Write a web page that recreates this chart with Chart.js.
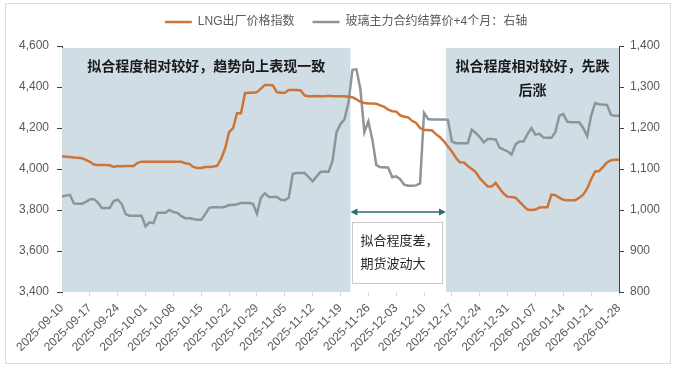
<!DOCTYPE html>
<html>
<head>
<meta charset="utf-8">
<script src="https://cdn.jsdelivr.net/npm/chart.js@4/dist/chart.umd.min.js"></script>
<style>
  html, body { margin: 0; padding: 0; background: #fff; }
  #wrap { position: relative; width: 692px; height: 374px; }
</style>
</head>
<body>
<div id="wrap"><canvas id="lngChart"></canvas></div>
<script>
// data (daily, 2025-09-10 .. 2026-01-28)
const startDate = '2025-09-10';
const dayCount = 141;

const tickLabels = ['2025-09-10', '2025-09-17', '2025-09-24', '2025-10-01', '2025-10-08', '2025-10-15',
    '2025-10-22', '2025-10-29', '2025-11-05', '2025-11-12', '2025-11-19', '2025-11-26', '2025-12-03',
    '2025-12-10', '2025-12-17', '2025-12-24', '2025-12-31', '2026-01-07', '2026-01-14', '2026-01-21',
    '2026-01-28'];

const seriesNames = ['LNG出厂价格指数', '玻璃主力合约结算价+4个月：右轴'];

const lngIndex = [
    4062, 4060, 4058, 4056, 4055, 4052, 4045, 4035, 4022, 4020,
    4020, 4020, 4018, 4010, 4015, 4013, 4015, 4015, 4015, 4030,
    4035, 4035, 4035, 4035, 4035, 4035, 4035, 4035, 4035, 4035,
    4035, 4028, 4025, 4010, 4005, 4005, 4010, 4010, 4012, 4015,
    4050, 4100, 4180, 4200, 4272, 4272, 4370, 4372, 4372, 4375,
    4392, 4410, 4410, 4408, 4375, 4372, 4372, 4385, 4385, 4385,
    4383, 4358, 4355, 4355, 4356, 4355, 4355, 4357, 4355, 4355,
    4355, 4355, 4352, 4350, 4340, 4328, 4322, 4320, 4320, 4318,
    4310, 4303, 4290, 4282, 4280, 4262, 4255, 4252, 4235, 4225,
    4200, 4190, 4190, 4188, 4170, 4155, 4135, 4110, 4085, 4055,
    4033, 4032, 4015, 4000, 3985, 3955, 3935, 3915, 3915, 3932,
    3905, 3880, 3865, 3863, 3860, 3840, 3820, 3802, 3800, 3802,
    3812, 3813, 3813, 3875, 3872, 3860, 3850, 3847, 3847, 3848,
    3860, 3875, 3905, 3950, 3988, 3990, 4010, 4032, 4043, 4045,
    4045
];

const glassFutures = [
    1033, 1035, 1037, 1016, 1015, 1015, 1020, 1026, 1027, 1018,
    1005, 1005, 1005, 1022, 1025, 1015, 990, 986, 986, 986,
    986, 960, 970, 968, 993, 993, 993, 1000, 995, 993,
    985, 980, 980, 978, 976, 976, 990, 1005, 1007, 1007,
    1006, 1008, 1012, 1012, 1014, 1017, 1017, 1017, 1015, 991,
    1030, 1041, 1032, 1032, 1032, 1025, 1024, 1030, 1088, 1090,
    1090, 1090, 1080, 1070, 1082, 1093, 1093, 1093, 1120, 1190,
    1210, 1221, 1262, 1342, 1343, 1295, 1190, 1216, 1172, 1110,
    1104, 1104, 1103, 1080, 1082, 1075, 1062, 1059, 1059, 1060,
    1065, 1237, 1222, 1221, 1221, 1221, 1221, 1220, 1167, 1163,
    1163, 1163, 1163, 1196, 1188, 1178, 1165, 1173, 1173, 1172,
    1152, 1147, 1143, 1135, 1160, 1167, 1167, 1185, 1200, 1184,
    1186, 1177, 1176, 1176, 1190, 1230, 1234, 1215, 1214, 1214,
    1214, 1200, 1180, 1230, 1261, 1258, 1257, 1256, 1232, 1230,
    1230
];

// shaded periods (first day, last day)
const shadeRanges = [['2025-09-10', '2025-11-21'], ['2025-12-16', '2026-01-28']];
const shadeNotes = [['拟合程度相对较好，趋势向上表现一致'], ['拟合程度相对较好，先跌', '后涨']];
const gapNote = ['拟合程度差，', '期货波动大'];

//build the daily category labels
const dates = [];
const d0 = new Date(startDate + 'T00:00:00Z');
for (let i = 0; i < dayCount; i++) {
    const d = new Date(d0.getTime() + i * 86400000);
    dates.push(d.toISOString().slice(0, 10));
}

const cjk = '"Liberation Sans", "Noto Sans CJK SC", sans-serif';
Chart.defaults.font.family = cjk;
Chart.defaults.color = '#595959';

//extra room under the legend
const legendGap = {
    id: 'legendGap',
    beforeInit(chart) {
        const fit = chart.legend.fit;
        chart.legend.fit = function () {
            fit.bind(chart.legend)();
            this.height += 8;
        };
    }
};

function edgePx(scale, date, side) {
    return scale.getPixelForValue(dates.indexOf(date) + side * 0.5);
}

const notes = {
    id: 'notes',
    beforeDatasetsDraw(chart) {
        const { ctx, chartArea, scales: { x, y } } = chart;
        ctx.save();
        ctx.fillStyle = '#d1dde5';
        const edges = shadeRanges.map(([a, b]) => [
            Math.max(edgePx(x, a, -1), chartArea.left),
            Math.min(edgePx(x, b, 1), chartArea.right)
        ]);
        edges.forEach(([l, r]) => {
            ctx.fillRect(l, chartArea.top + 2, r - l, chartArea.bottom - chartArea.top - 2);
        });

        // shade titles
        ctx.fillStyle = '#1a1a1a';
        ctx.font = 'bold 14px "Noto Sans CJK SC", sans-serif';
        ctx.textAlign = 'center';
        ctx.textBaseline = 'middle';
        shadeNotes.forEach((lines, i) => {
            const cx = (edges[i][0] + edges[i][1]) / 2;
            lines.forEach((t, j) => ctx.fillText(t, cx, y.getPixelForValue(4504) + j * 24));
        });

        // double arrow over the gap
        const gl = edges[0][1], gr = edges[1][0];
        const ay = y.getPixelForValue(3790);
        ctx.strokeStyle = '#2c6b77';
        ctx.fillStyle = '#2c6b77';
        ctx.lineWidth = 1.6;
        ctx.beginPath();
        ctx.moveTo(gl + 4, ay);
        ctx.lineTo(gr - 4, ay);
        ctx.stroke();
        [[gl, 1], [gr, -1]].forEach(([px, dir]) => {
            ctx.beginPath();
            ctx.moveTo(px, ay);
            ctx.lineTo(px + dir * 7, ay - 3.5);
            ctx.lineTo(px + dir * 7, ay + 3.5);
            ctx.closePath();
            ctx.fill();
        });

        // note box
        const bt = y.getPixelForValue(3743), bb = y.getPixelForValue(3445);
        ctx.fillStyle = '#ffffff';
        ctx.fillRect(gl + 2, bt, gr - gl - 5, bb - bt);
        ctx.strokeStyle = '#c9c9c9';
        ctx.lineWidth = 1;
        ctx.strokeRect(Math.round(gl + 2) + 0.5, Math.round(bt) + 0.5, Math.round(gr - gl - 5), Math.round(bb - bt));
        ctx.fillStyle = '#262626';
        ctx.font = '13px "Noto Sans CJK SC", sans-serif';
        ctx.textAlign = 'left';
        gapNote.forEach((t, j) => ctx.fillText(t, gl + 10, y.getPixelForValue(3655) + j * 23));
        ctx.restore();
    },
    afterDraw(chart) {
        const { ctx } = chart;
        ctx.save();
        ctx.strokeStyle = '#dcdcdc';
        ctx.lineWidth = 1;
        ctx.strokeRect(5.5, 3.5, 665, 360);
        ctx.restore();
    }
};

const ctx = document.getElementById('lngChart').getContext('2d');
const lngChart = new Chart(ctx, {
    type: 'line',
    data: {
        labels: dates,
        datasets: [{
            label: seriesNames[0],
            data: lngIndex,
            yAxisID: 'y',
            borderColor: '#cd7438',
            backgroundColor: '#cd7438',
            borderWidth: 2.5,
            pointRadius: 0,
            tension: 0
        }, {
            label: seriesNames[1],
            data: glassFutures,
            yAxisID: 'y1',
            borderColor: '#8e9599',
            backgroundColor: '#8e9599',
            borderWidth: 2.5,
            pointRadius: 0,
            tension: 0
        }]
    },
    options: {
        responsive: true,
        maintainAspectRatio: false,
        animation: false,
        locale: 'en-US',
        layout: { padding: { top: -2, left: 0, right: 0, bottom: 0 } },
        plugins: {
            legend: {
                position: 'top',
                labels: {
                    usePointStyle: true,
                    pointStyle: 'line',
                    pointStyleWidth: 27,
                    padding: 18,
                    color: '#595959',
                    font: { size: 12 }
                }
            },
            tooltip: { enabled: false }
        },
        scales: {
            x: {
                grid: {
                    drawOnChartArea: false,
                    tickLength: 4,
                    color: (c) => (c.index % 7 === 0 ? '#d9d9d9' : 'transparent')
                },
                border: { display: false },
                ticks: {
                    autoSkip: false,
                    maxRotation: 45,
                    minRotation: 45,
                    padding: 5,
                    font: { size: 12 },
                    color: '#595959',
                    callback: function (v, i) {
                        const lab = this.getLabelForValue(v);
                        return tickLabels.includes(lab) ? lab : '';
                    }
                },
                afterFit(scale) { scale.height = 82; }
            },
            y: {
                position: 'left',
                min: 3400,
                max: 4600,
                grid: { drawOnChartArea: false, tickLength: 5, color: '#404040' },
                border: { display: true, color: '#404040', width: 1 },
                ticks: { stepSize: 200, padding: 8, font: { size: 12 }, color: '#595959' },
                afterFit(scale) { scale.width = 62; }
            },
            y1: {
                position: 'right',
                min: 800,
                max: 1400,
                grid: { drawOnChartArea: false, tickLength: 5, color: '#404040' },
                border: { display: true, color: '#404040', width: 1 },
                ticks: { stepSize: 100, padding: 6, font: { size: 12 }, color: '#595959' },
                afterFit(scale) { scale.width = 73; }
            }
        }
    },
    plugins: [legendGap, notes]
});
</script>
</body>
</html>
